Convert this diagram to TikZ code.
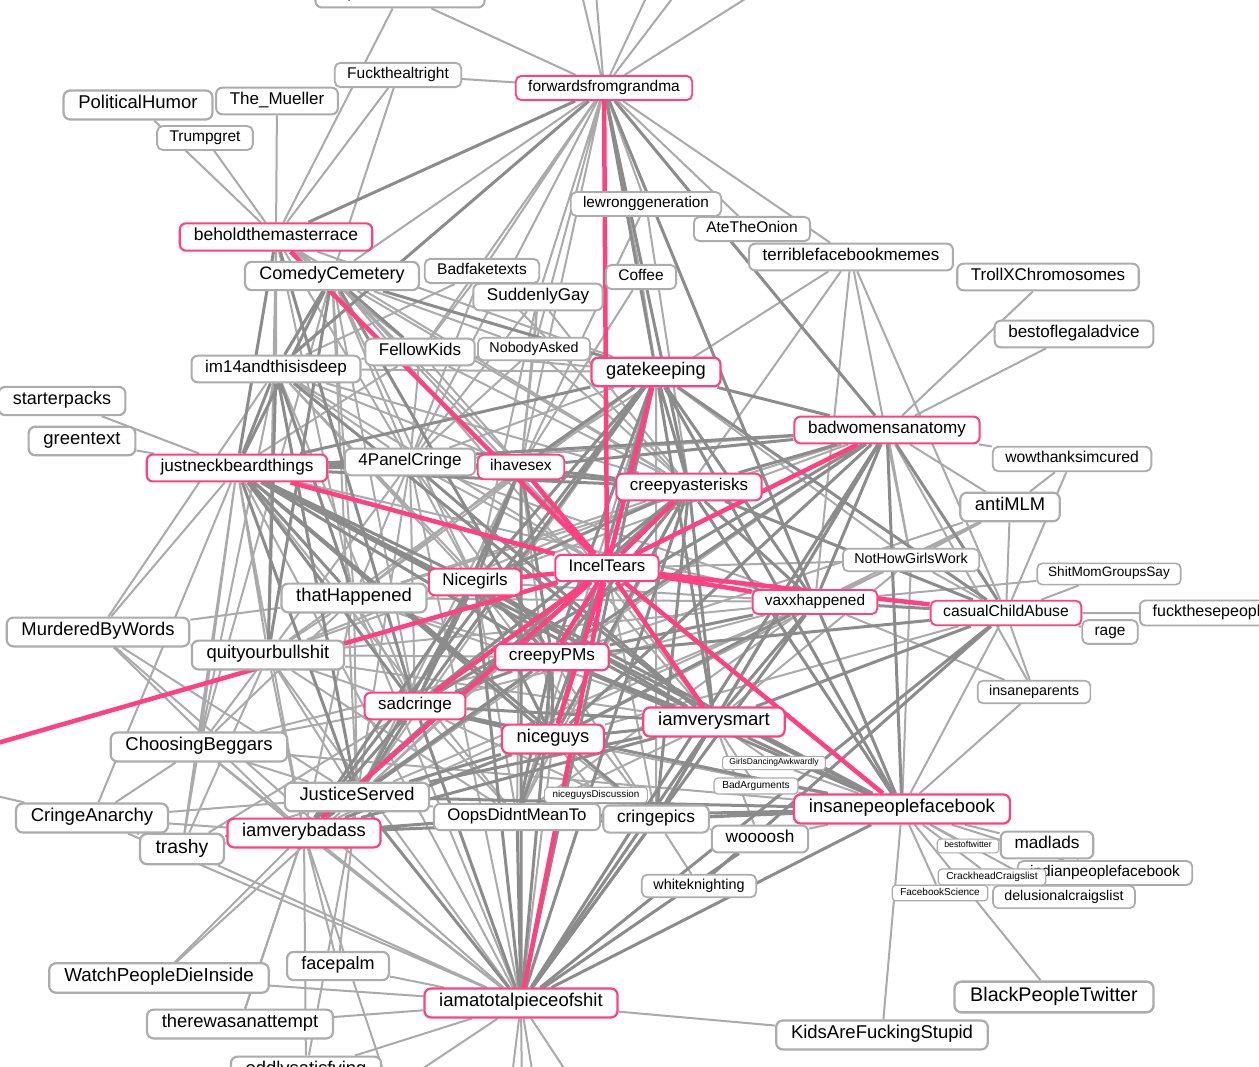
\documentclass[tikz,border=0pt]{standalone}
\usepackage{fontspec}
\setmainfont{Liberation Sans}

\definecolor{hubpink}{RGB}{255,64,129}
\definecolor{boxgray}{RGB}{172,172,172}
\definecolor{ltgray}{RGB}{170,170,170}
\definecolor{dkgray}{RGB}{140,140,140}

\pgfdeclarelayer{bg}
\pgfdeclarelayer{edges}
\pgfsetlayers{bg,edges,main}

\tikzset{
  sub/.style={draw=boxgray, fill=white, text=black, line width=0.12*#1pt,
    rounded corners=0.36*#1pt, font=\fontsize{#1}{#1}\selectfont,
    inner xsep=0.8*#1pt, inner ysep=0.27*#1pt, execute at begin node=\strut},
  hub/.style={sub=#1, draw=hubpink},
  lt/.style={draw=ltgray, line width=2pt},
  dk/.style={draw=dkgray, line width=3pt},
  pk/.style={draw=hubpink, line width=4.5pt},
}

\begin{document}
\begin{tikzpicture}[x=1pt,y=-1pt]
    \useasboundingbox (0,0) rectangle (1259,1067);
    \begin{pgfonlayer}{bg}
        \fill[white] (0,0) rectangle (1259,1067);
    \end{pgfonlayer}

    % Subreddits -- top
    \node[sub=17.2] (topminds) at (400,-6) {TopMindsOfReddit};
    \node[hub=15.5] (fwd) at (604,88) {forwardsfromgrandma};
    \node[sub=15.5] (fuck) at (398,75) {Fuckthealtright};
    \node[sub=17] (mueller) at (277,101) {The\_Mueller};
    \node[sub=18.5] (polhum) at (138,105) {PoliticalHumor};
    \node[sub=15.5] (trump) at (205,138) {Trumpgret};
    \node[hub=17.5] (behold) at (276,237) {beholdthemasterrace};
    \node[sub=18] (comedy) at (332,276) {ComedyCemetery};
    \node[sub=15.5] (badfake) at (482,271) {Badfaketexts};
    \node[sub=17] (sudgay) at (538,297) {SuddenlyGay};
    \node[sub=15.3] (lewrong) at (646,204) {lewronggeneration};
    \node[sub=15.5] (onion) at (752,229) {AteTheOnion};
    \node[sub=17] (tfbm) at (851,257) {terriblefacebookmemes};
    \node[sub=17] (trollx) at (1048,277) {TrollXChromosomes};
    \node[sub=17] (legal) at (1074,334) {bestoflegaladvice};
    \node[sub=15.5] (coffee) at (641,277) {Coffee};
    \node[sub=17] (fellow) at (420,352) {FellowKids};
    \node[sub=14.3] (nobody) at (534,349) {NobodyAsked};
    \node[sub=17] (im14) at (276,369) {im14andthisisdeep};
    \node[hub=18.3] (gate) at (656,372) {gatekeeping};

    % -- middle
    \node[sub=18] (starter) at (62,401) {starterpacks};
    \node[sub=18.5] (green) at (82,441) {greentext};
    \node[hub=17.2] (jnb) at (237,468) {justneckbeardthings};
    \node[sub=17] (panel) at (410,462) {4PanelCringe};
    \node[hub=15.6] (ihs) at (521,467) {ihavesex};
    \node[hub=17.1] (bwa) at (887,430) {badwomensanatomy};
    \node[sub=15.7] (wowcured) at (1072,459) {wowthanksimcured};
    \node[hub=17] (creepyast) at (689,487) {creepyasterisks};
    \node[sub=18.3] (antimlm) at (1010,507) {antiMLM};
    \node[sub=14.3] (nhgw) at (911,560) {NotHowGirlsWork};
    \node[hub=16.8] (incel) at (607,568) {IncelTears};
    \node[hub=17] (nicegirls) at (475,582) {Nicegirls};
    \node[sub=18.4] (thathap) at (354,598) {thatHappened};
    \node[sub=13.6] (smgs) at (1109,574) {ShitMomGroupsSay};
    \node[hub=15.4] (vaxx) at (815,602) {vaxxhappened};
    \node[hub=15.7] (cca) at (1006,613) {casualChildAbuse};
    \node[sub=16] (ftp) at (1211,613) {fuckthesepeople};
    \node[sub=15.4] (rage) at (1110,632) {rage};
    \node[sub=18.4] (mbw) at (98,632) {MurderedByWords};
    \node[sub=18.4] (qyb) at (268,655) {quityourbullshit};
    \node[hub=17.2] (creepypms) at (552,657) {creepyPMs};
    \node[sub=14.3] (insanepar) at (1034,692) {insaneparents};
    \node[hub=17] (sadcringe) at (415,706) {sadcringe};
    \node[hub=18.6] (iavs) at (714,722) {iamverysmart};
    \node[sub=18.5] (choosing) at (199,747) {ChoosingBeggars};
    \node[hub=18.4] (niceguys) at (553,739) {niceguys};

    % -- lower
    \node[sub=8.5] (gda) at (774,763) {GirlsDancingAwkwardly};
    \node[sub=10.2] (badarg) at (756,786) {BadArguments};
    \node[sub=9.9] (ngd) at (596,795) {niceguysDiscussion};
    \node[sub=18.3] (justice) at (357,797) {JusticeServed};
    \node[hub=18.6] (ipf) at (902,809) {insanepeoplefacebook};
    \node[sub=18.5] (cringeanarchy) at (92,818) {CringeAnarchy};
    \node[sub=16.8] (oops) at (517,817) {OopsDidntMeanTo};
    \node[sub=17.3] (cringepics) at (656,819) {cringepics};
    \node[hub=18.4] (iavb) at (304,833) {iamverybadass};
    \node[sub=19.4] (trashy) at (182,849) {trashy};
    \node[sub=17.2] (woooosh) at (760,839) {woooosh};
    \node[sub=15.4] (indian) at (1105,873) {indianpeoplefacebook};
    \node[sub=17.2] (madlads) at (1047,845) {madlads};
    \node[sub=8.8] (bestoftw) at (968,846) {bestoftwitter};
    \node[sub=10.2] (crackhead) at (992,877) {CrackheadCraigslist};
    \node[sub=14.4] (whiteknight) at (699,886) {whiteknighting};
    \node[sub=10] (fbsci) at (940,893) {FacebookScience};
    \node[sub=14.2] (delusional) at (1064,897) {delusionalcraigslist};
    \node[sub=18] (facepalm) at (338,966) {facepalm};
    \node[sub=18.8] (wpdi) at (159,978) {WatchPeopleDieInside};
    \node[sub=19.7] (bpt) at (1054,997) {BlackPeopleTwitter};
    \node[hub=18.5] (iatpos) at (521,1003) {iamatotalpieceofshit};
    \node[sub=18.4] (therewas) at (240,1024) {therewasanattempt};
    \node[sub=18.5] (kafs) at (882,1035) {KidsAreFuckingStupid};
    \node[sub=18.4] (oddly) at (306,1071) {oddlysatisfying};

    % Off-picture ends
    \coordinate (top1) at (576,-30);
    \coordinate (top2) at (594,-30);
    \coordinate (top3) at (659,-30);
    \coordinate (top4) at (694,-30);
    \coordinate (top5) at (791,-30);
    \coordinate (left1) at (-100,771);
    \coordinate (left2) at (-60,783);
    \coordinate (bot1) at (380,1097);
    \coordinate (bot2) at (509,1100);
    \coordinate (bot3) at (522,1100);
    \coordinate (bot4) at (537,1100);
    \coordinate (bot5) at (585,1100);
    \coordinate (bot6) at (393,1100);

    \begin{pgfonlayer}{edges}
    % Light links
    \draw[lt] (fwd) -- (topminds) (fwd) -- (top1) (fwd) -- (top2) (fwd) -- (top3)
        (fwd) -- (top4) (fwd) -- (top5) (fwd) -- (fuck) (fwd) -- (comedy)
        (fwd) -- (fellow) (fwd) -- (badfake) (fwd) -- (sudgay) (fwd) -- (nobody)
        (fwd) -- (ihs) (fwd) -- (panel) (fwd) -- (lewrong) (fwd) -- (coffee)
        (fwd) -- (onion) (fwd) -- (tfbm);
    \draw[lt] (topminds) -- (behold) (fuck) -- (behold) (fuck) -- (comedy)
        (mueller) -- (behold) (trump) -- (behold) (polhum) -- (behold);
    \draw[lt] (behold) -- (comedy) (behold) -- (im14) (behold) -- (panel)
        (behold) -- (fellow) (behold) -- (thathap) (behold) -- (qyb)
        (behold) -- (creepyast) (behold) -- (gate);
    \draw[lt] (comedy) -- (panel) (comedy) -- (nobody) (comedy) -- (ihs)
        (comedy) -- (creepyast) (comedy) -- (incel) (comedy) -- (nicegirls)
        (comedy) -- (thathap) (comedy) -- (sadcringe) (comedy) -- (justice)
        (comedy) -- (iavs) (comedy) -- (choosing);
    \draw[lt] (badfake) -- (fellow) (badfake) -- (panel) (badfake) -- (creepyast)
        (badfake) -- (im14) (sudgay) -- (panel) (sudgay) -- (nobody)
        (sudgay) -- (ihs) (sudgay) -- (nicegirls) (sudgay) -- (creepyast)
        (lewrong) -- (creepyast) (lewrong) -- (ihs) (coffee) -- (ihs)
        (coffee) -- (gate);
    \draw[lt] (tfbm) -- (ihs) (tfbm) -- (creepyast) (tfbm) -- (vaxx)
        (tfbm) -- (cca) (tfbm) -- (nhgw) (trollx) -- (bwa) (legal) -- (bwa);
    \draw[lt] (fellow) -- (im14) (fellow) -- (panel) (fellow) -- (ihs)
        (fellow) -- (jnb) (fellow) -- (gate) (fellow) -- (creepyast)
        (nobody) -- (ihs) (nobody) -- (panel) (nobody) -- (gate)
        (nobody) -- (creepyast);
    \draw[lt] (im14) -- (panel) (im14) -- (ihs) (im14) -- (mbw)
        (im14) -- (nicegirls) (im14) -- (creepyast) (im14) -- (incel)
        (im14) -- (gate) (im14) -- (sadcringe) (im14) -- (choosing)
        (im14) -- (creepypms);
    \draw[lt] (gate) -- (panel) (gate) -- (thathap) (gate) -- (qyb)
        (gate) -- (justice) (gate) -- (oops) (gate) -- (cringepics)
        (gate) -- (nhgw);
    \draw[lt] (ihs) -- (thathap) (ihs) -- (niceguys) (ihs) -- (iavs)
        (ihs) -- (justice) (ihs) -- (oops);
    \draw[lt] (panel) -- (bwa) (panel) -- (thathap) (panel) -- (nicegirls)
        (panel) -- (incel) (panel) -- (sadcringe) (panel) -- (creepypms)
        (panel) -- (qyb) (panel) -- (justice) (panel) -- (vaxx)
        (panel) -- (iatpos);
    \draw[lt] (jnb) -- (starter) (jnb) -- (green) (jnb) -- (mbw)
        (jnb) -- (choosing) (jnb) -- (cringeanarchy) (jnb) -- (qyb)
        (jnb) -- (iavb) (jnb) -- (oops) (jnb) -- (trashy) (jnb) -- (vaxx)
        (jnb) -- (iatpos);
    \draw[lt] (creepyast) -- (thathap) (creepyast) -- (oops)
        (creepyast) -- (justice) (creepyast) -- (qyb);
    \draw[lt] (bwa) -- (wowcured) (bwa) -- (antimlm) (bwa) -- (nhgw)
        (bwa) -- (insanepar) (bwa) -- (thathap) (bwa) -- (nicegirls)
        (bwa) -- (justice);
    \draw[lt] (wowcured) -- (antimlm) (wowcured) -- (cca) (antimlm) -- (cca)
        (antimlm) -- (vaxx) (antimlm) -- (nhgw) (antimlm) -- (creepypms)
        (antimlm) -- (niceguys) (nhgw) -- (cca) (nhgw) -- (vaxx)
        (nhgw) -- (iavs) (nhgw) -- (incel) (nhgw) -- (ipf);
    \draw[lt] (incel) -- (thathap) (incel) -- (cringepics) (incel) -- (justice);
    \draw[lt] (nicegirls) -- (thathap) (nicegirls) -- (qyb) (nicegirls) -- (vaxx)
        (nicegirls) -- (oops) (nicegirls) -- (cringepics);
    \draw[lt] (thathap) -- (mbw) (thathap) -- (qyb) (thathap) -- (sadcringe)
        (thathap) -- (creepypms) (thathap) -- (iavs) (thathap) -- (justice)
        (thathap) -- (iavb) (thathap) -- (iatpos) (thathap) -- (vaxx)
        (thathap) -- (choosing);
    \draw[lt] (smgs) -- (vaxx) (smgs) -- (cca) (cca) -- (ftp) (cca) -- (rage)
        (cca) -- (insanepar) (cca) -- (ipf) (cca) -- (niceguys)
        (insanepar) -- (vaxx) (insanepar) -- (ipf);
    \draw[lt] (vaxx) -- (sadcringe) (vaxx) -- (oops) (vaxx) -- (justice)
        (vaxx) -- (iavb) (vaxx) -- (qyb);
    \draw[lt] (creepypms) -- (qyb) (creepypms) -- (cringepics)
        (creepypms) -- (choosing);
    \draw[lt] (sadcringe) -- (qyb) (sadcringe) -- (choosing) (sadcringe) -- (oops)
        (sadcringe) -- (trashy) (sadcringe) -- (cringepics);
    \draw[lt] (iavs) -- (gda) (iavs) -- (badarg) (iavs) -- (woooosh)
        (iavs) -- (oops) (iavs) -- (qyb);
    \draw[lt] (niceguys) -- (ngd) (niceguys) -- (oops) (niceguys) -- (cringepics)
        (niceguys) -- (ipf) (niceguys) -- (iatpos);
    \draw[lt] (qyb) -- (mbw) (qyb) -- (choosing) (qyb) -- (justice)
        (qyb) -- (iavb) (qyb) -- (iatpos) (qyb) -- (oops) (qyb) -- (trashy);
    \draw[lt] (choosing) -- (cringeanarchy) (choosing) -- (trashy)
        (choosing) -- (justice) (choosing) -- (iavb) (choosing) -- (iatpos)
        (choosing) -- (ipf);
    \draw[lt] (justice) -- (oops) (justice) -- (trashy) (justice) -- (cringeanarchy)
        (justice) -- (oddly) (justice) -- (facepalm) (oops) -- (cringepics)
        (cringepics) -- (woooosh) (cringepics) -- (whiteknight);
    \draw[lt] (iavb) -- (trashy) (iavb) -- (cringeanarchy) (iavb) -- (wpdi)
        (iavb) -- (facepalm) (iavb) -- (therewas) (iavb) -- (iatpos)
        (iavb) -- (oddly) (iavb) -- (mbw) (iavb) -- (bot6);
    \draw[lt] (mbw) -- (justice) (mbw) -- (iatpos) (cringeanarchy) -- (left2)
        (cringeanarchy) -- (trashy) (cringeanarchy) -- (iatpos)
        (trashy) -- (iatpos) (facepalm) -- (iatpos) (wpdi) -- (iatpos)
        (wpdi) -- (justice) (therewas) -- (iatpos) (therewas) -- (iavb);
    \draw[lt] (iatpos) -- (kafs) (iatpos) -- (oddly) (iatpos) -- (bot1)
        (iatpos) -- (bot2) (iatpos) -- (bot3) (iatpos) -- (bot4)
        (iatpos) -- (bot5);
    \draw[lt] (ipf) -- (madlads) (ipf) -- (bestoftw) (ipf) -- (indian)
        (ipf) -- (crackhead) (ipf) -- (delusional) (ipf) -- (fbsci)
        (ipf) -- (kafs) (ipf) -- (bpt) (ipf) -- (gda) (ipf) -- (badarg)
        (ipf) -- (woooosh) (madlads) -- (indian);

    % Dark links
    \draw[dk] (fwd) -- (behold) (fwd) -- (im14) (fwd) -- (gate)
        (fwd) -- (creepyast) (fwd) -- (vaxx) (fwd) -- (bwa);
    \draw[dk] (behold) -- (jnb) (behold) -- (sadcringe);
    \draw[dk] (comedy) -- (im14) (comedy) -- (jnb) (comedy) -- (fellow)
        (comedy) -- (gate) (comedy) -- (qyb) (comedy) -- (creepypms);
    \draw[dk] (im14) -- (jnb) (im14) -- (thathap) (im14) -- (qyb)
        (im14) -- (justice) (im14) -- (iavs);
    \draw[dk] (gate) -- (jnb) (gate) -- (ihs) (gate) -- (creepyast)
        (gate) -- (nicegirls) (gate) -- (sadcringe) (gate) -- (creepypms)
        (gate) -- (niceguys) (gate) -- (iavs) (gate) -- (vaxx) (gate) -- (bwa)
        (gate) -- (cca) (gate) -- (ipf) (gate) -- (iatpos) (gate) -- (iavb);
    \draw[dk] (ihs) -- (jnb) (ihs) -- (panel) (ihs) -- (nicegirls)
        (ihs) -- (sadcringe) (ihs) -- (creepypms) (ihs) -- (creepyast)
        (ihs) -- (bwa) (ihs) -- (iatpos);
    \draw[dk] (panel) -- (jnb) (panel) -- (creepyast) (panel) -- (iavs);
    \draw[dk] (jnb) -- (thathap) (jnb) -- (nicegirls) (jnb) -- (creepyast)
        (jnb) -- (bwa) (jnb) -- (creepypms) (jnb) -- (sadcringe)
        (jnb) -- (iavs) (jnb) -- (niceguys) (jnb) -- (justice)
        (jnb) -- (cringepics) (jnb) -- (ipf);
    \draw[dk] (creepyast) -- (nicegirls) (creepyast) -- (sadcringe)
        (creepyast) -- (creepypms) (creepyast) -- (niceguys)
        (creepyast) -- (iavs) (creepyast) -- (vaxx) (creepyast) -- (bwa)
        (creepyast) -- (cca) (creepyast) -- (ipf) (creepyast) -- (iatpos)
        (creepyast) -- (cringepics) (creepyast) -- (iavb);
    \draw[dk] (bwa) -- (vaxx) (bwa) -- (cca) (bwa) -- (ipf) (bwa) -- (iavs)
        (bwa) -- (niceguys) (bwa) -- (creepypms) (bwa) -- (sadcringe)
        (bwa) -- (iatpos) (bwa) -- (cringepics);
    \draw[dk] (incel) -- (oops) (nicegirls) -- (creepypms)
        (nicegirls) -- (sadcringe) (nicegirls) -- (niceguys)
        (nicegirls) -- (iavs) (nicegirls) -- (justice) (nicegirls) -- (iavb)
        (nicegirls) -- (ipf) (nicegirls) -- (iatpos);
    \draw[dk] (vaxx) -- (cca) (vaxx) -- (creepypms) (vaxx) -- (niceguys)
        (vaxx) -- (iavs) (vaxx) -- (ipf) (vaxx) -- (iatpos)
        (vaxx) -- (cringepics);
    \draw[dk] (cca) -- (iavs) (cca) -- (creepypms) (cca) -- (iatpos)
        (cca) -- (whiteknight);
    \draw[dk] (creepypms) -- (sadcringe) (creepypms) -- (niceguys)
        (creepypms) -- (iavs) (creepypms) -- (justice) (creepypms) -- (oops)
        (creepypms) -- (iavb) (creepypms) -- (iatpos) (creepypms) -- (ipf);
    \draw[dk] (sadcringe) -- (niceguys) (sadcringe) -- (iavs)
        (sadcringe) -- (justice) (sadcringe) -- (iavb) (sadcringe) -- (iatpos)
        (sadcringe) -- (ipf);
    \draw[dk] (iavs) -- (niceguys) (iavs) -- (ipf) (iavs) -- (cringepics)
        (iavs) -- (iatpos) (iavs) -- (justice) (iavs) -- (iavb);
    \draw[dk] (niceguys) -- (justice) (niceguys) -- (iavb)
        (justice) -- (iavb) (justice) -- (iatpos) (justice) -- (ipf)
        (oops) -- (iavb) (oops) -- (iatpos) (oops) -- (ipf)
        (cringepics) -- (ipf) (cringepics) -- (iatpos) (iavb) -- (ipf);
    \draw[dk] (iatpos) -- (ipf) (iatpos) -- (woooosh);

    % Pink links
    \draw[pk] (fwd) -- (incel) (behold) -- (incel) (gate) -- (incel)
        (jnb) -- (incel) (ihs) -- (incel) (creepyast) -- (incel)
        (bwa) -- (incel) (incel) -- (left1);
    \draw[pk] (incel) -- (nicegirls) (incel) -- (creepypms) (incel) -- (niceguys)
        (incel) -- (sadcringe) (incel) -- (iavs) (incel) -- (ipf)
        (incel) -- (vaxx) (incel) -- (cca) (incel) -- (iavb)
        (incel) -- (iatpos);
    \end{pgfonlayer}
\end{tikzpicture}
\end{document}
